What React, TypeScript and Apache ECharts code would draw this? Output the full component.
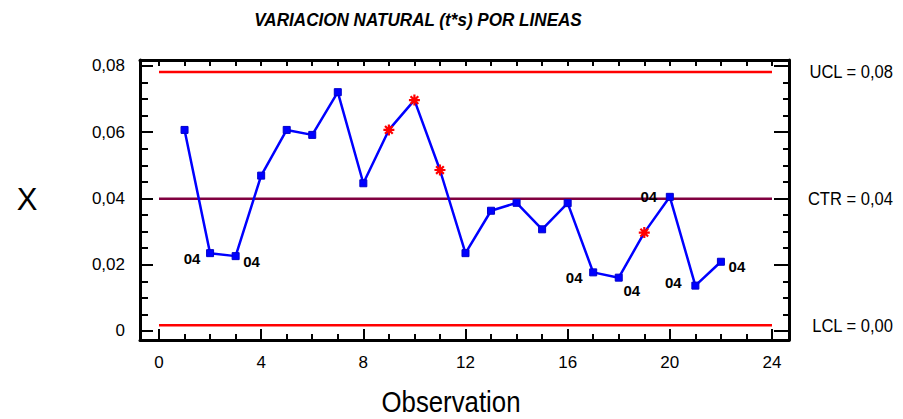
import React, { useEffect, useRef } from 'react';
import * as echarts from 'echarts';

// Observation numbers and the individual measurements (X)
const observations = [1, 2, 3, 4, 5, 6, 7, 8, 9, 10, 11, 12, 13, 14, 15, 16, 17, 18, 19, 20, 21, 22];
const xValues = [
  0.0607, 0.0235, 0.0226, 0.0469, 0.0607, 0.0592, 0.0721, 0.0446, 0.0607, 0.0697, 0.0486,
  0.0235, 0.0363, 0.0387, 0.0307, 0.0386, 0.0177, 0.0161, 0.0297, 0.0405, 0.0137, 0.0209,
];
// Observations flagged by the control rules (drawn as red asterisks)
const flaggedObs = [9, 10, 11, 19];
// Run-rule codes attached to observations
const ruleCodes = [
  '', '04', '04', '', '', '', '', '', '', '', '',
  '', '', '', '', '', '04', '04', '', '04', '04', '04',
];

// Control limits
const UCL = 0.0782;
const CTR = 0.0399;
const LCL = 0.0017;
const limitStart = 0;
const limitEnd = 24;

// Axis ticks
const xTickLabels = [0, 4, 8, 12, 16, 20, 24];
const xMinorTicks = [0, 1, 2, 3, 4, 5, 6, 7, 8, 9, 10, 11, 12, 13, 14, 15, 16, 17, 18, 19, 20, 21, 22, 23, 24];
const yTickLabels = [0, 0.02, 0.04, 0.06, 0.08];
const yMinorTicks = [0, 0.005, 0.01, 0.015, 0.02, 0.025, 0.03, 0.035, 0.04, 0.045, 0.05, 0.055, 0.06, 0.065, 0.07, 0.075, 0.08];

const X_MIN = -0.744;
const X_MAX = 24.666;
const Y_MIN = -0.00272;
const Y_MAX = 0.08181;

const FONT = '"Liberation Sans", Arial, sans-serif';

// Where each run-rule code sits relative to its point
const codeOffset: Record<number, [number, number]> = {
  2: [-18, 5],
  3: [16, 5],
  17: [-19, 5],
  18: [13, 13],
  20: [-21, 0],
  21: [-22, -3],
  22: [16, 5],
};

const ASTERISK = 'path://M0,5L10,5M5,0L5,10M1.5,1.5L8.5,8.5M8.5,1.5L1.5,8.5';

const fmtComma = (v: number) => (Math.abs(v) < 1e-9 ? '0' : v.toFixed(2).replace('.', ','));

// Condensed text element: positioned by the element so scaleX squeezes around its anchor
const squeezedText = (id: string, text: string, x: number, y: number, align: string, fontSize: number, scaleX: number, extra: any = {}) => ({
  type: 'text',
  id,
  x,
  y,
  scaleX,
  style: {
    text,
    x: 0,
    y: 0,
    align,
    verticalAlign: 'middle',
    fill: '#000',
    fontSize,
    fontFamily: FONT,
    ...extra,
  },
});

export default function App() {
  const ref = useRef<HTMLDivElement>(null);

  useEffect(() => {
    document.body.style.margin = '0';
    const chart = echarts.init(ref.current!, null, { renderer: 'svg' });

    const frameLine = { show: true, onZero: false, lineStyle: { color: '#000', width: 3 } };
    const tickStyle = { color: '#000', width: 2 };
    const labelStyle = { color: '#000', fontSize: 17, fontFamily: FONT };

    const xBase = { type: 'value', min: X_MIN, max: X_MAX, splitLine: { show: false } };
    const yBase = { type: 'value', min: Y_MIN, max: Y_MAX, splitLine: { show: false } };

    const mainData = observations.map((obs, i) => {
      const item: any = { value: [obs, xValues[i]] };
      if (flaggedObs.includes(obs)) {
        item.symbol = ASTERISK;
        item.symbolSize = 11;
        item.itemStyle = { color: 'none', borderColor: '#ff0000', borderWidth: 2.2 };
      }
      if (ruleCodes[i]) {
        item.label = {
          show: true,
          formatter: ruleCodes[i],
          position: 'inside',
          offset: codeOffset[obs] || [0, 0],
          align: 'center',
          verticalAlign: 'middle',
          color: '#000',
          fontSize: 15,
          fontWeight: 'bold',
          fontFamily: FONT,
        };
      }
      return item;
    });

    const limitSeries = (value: number, color: string) => ({
      type: 'line',
      xAxisIndex: 0,
      yAxisIndex: 0,
      data: [[limitStart, value], [limitEnd, value]],
      symbol: 'none',
      silent: true,
      lineStyle: { color, width: 2.5 },
      z: 2,
    });

    chart.setOption({
      animation: false,
      grid: { left: 140, top: 60, right: 114, bottom: 79, containLabel: false },
      xAxis: [
        {
          ...xBase,
          position: 'bottom',
          axisLine: frameLine,
          axisTick: { show: true, inside: true, length: 6, customValues: xMinorTicks, lineStyle: tickStyle },
          axisLabel: { show: false },
        },
        {
          ...xBase,
          position: 'bottom',
          axisLine: { show: false, onZero: false },
          axisTick: { show: true, inside: true, length: 11, customValues: xTickLabels, lineStyle: tickStyle },
          axisLabel: { show: true, customValues: xTickLabels, margin: 14, ...labelStyle },
        },
        {
          ...xBase,
          position: 'top',
          axisLine: frameLine,
          axisTick: { show: true, inside: true, length: 6, customValues: xMinorTicks, lineStyle: tickStyle },
          axisLabel: { show: false },
        },
      ],
      yAxis: [
        {
          ...yBase,
          position: 'left',
          axisLine: frameLine,
          axisTick: { show: true, inside: true, length: 8, customValues: yMinorTicks, lineStyle: tickStyle },
          axisLabel: { show: false },
        },
        {
          ...yBase,
          position: 'left',
          axisLine: { show: false, onZero: false },
          axisTick: { show: true, inside: true, length: 13, customValues: yTickLabels, lineStyle: tickStyle },
          axisLabel: { show: true, customValues: yTickLabels, margin: 15, formatter: fmtComma, ...labelStyle },
        },
        {
          ...yBase,
          position: 'right',
          axisLine: frameLine,
          axisTick: { show: true, inside: true, length: 6, customValues: yMinorTicks, lineStyle: tickStyle },
          axisLabel: { show: false },
        },
        {
          ...yBase,
          position: 'right',
          axisLine: { show: false, onZero: false },
          axisTick: { show: true, inside: true, length: 15, customValues: yTickLabels, lineStyle: tickStyle },
          axisLabel: { show: false },
        },
      ],
      series: [
        limitSeries(UCL, '#ff0000'),
        limitSeries(CTR, '#800040'),
        limitSeries(LCL, '#ff0000'),
        {
          type: 'line',
          xAxisIndex: 0,
          yAxisIndex: 0,
          data: mainData,
          symbol: 'rect',
          symbolSize: 7,
          showAllSymbol: true,
          lineStyle: { color: '#0000ff', width: 2.5 },
          itemStyle: { color: '#0000ff', borderColor: '#0000cc', borderWidth: 1 },
          z: 5,
        },
      ],
    });

    const yOf = (v: number) => (chart.convertToPixel({ xAxisIndex: 0, yAxisIndex: 0 }, [limitEnd, v]) as number[])[1];
    const limitLabel = (name: string, v: number) => `${name} = ${v.toFixed(2).replace('.', ',')}`;

    chart.setOption({
      graphic: [
        squeezedText('title', 'VARIACION NATURAL (t*s) POR LINEAS', 418, 20, 'center', 19, 0.9, {
          fontWeight: 'bold',
          fontStyle: 'italic',
        }),
        squeezedText('yname', 'X', 27, 199, 'center', 31, 1),
        squeezedText('xname', 'Observation', 451, 402, 'center', 30, 0.86),
        squeezedText('ucl', limitLabel('UCL', UCL), 893, yOf(UCL), 'right', 18, 0.92),
        squeezedText('ctr', limitLabel('CTR', CTR), 893, yOf(CTR), 'right', 18, 0.92),
        squeezedText('lcl', limitLabel('LCL', LCL), 893, yOf(LCL), 'right', 18, 0.92),
      ],
    });

    return () => chart.dispose();
  }, []);

  return <div ref={ref} style={{ width: 903, height: 419 }} />;
}
